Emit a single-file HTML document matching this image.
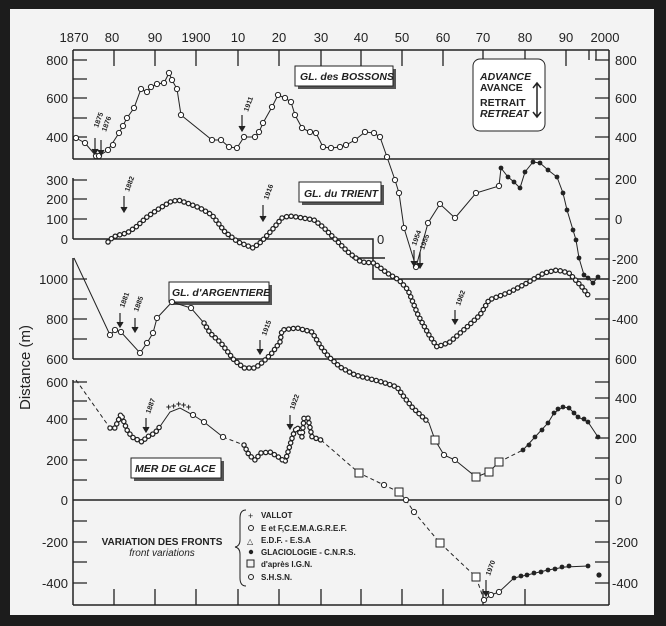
<!DOCTYPE html>
<html><head><style>
body{margin:0;background:#1c1c1c;}
svg{display:block;font-family:"Liberation Sans",sans-serif;}
</style></head><body>
<svg width="666" height="626" viewBox="0 0 666 626">
<rect x="0" y="0" width="666" height="626" fill="#1c1c1c"/>
<rect x="10" y="9" width="644" height="606" fill="#f3f3f3"/>
<g stroke="#222" stroke-width="1.5" fill="none">
<line x1="73" y1="50" x2="609" y2="50"/>
<line x1="609" y1="50" x2="609" y2="605"/>
<line x1="73" y1="50" x2="73" y2="159"/>
<line x1="73" y1="159" x2="609" y2="159"/>
<line x1="73" y1="178" x2="73" y2="239"/>
<polyline points="73,239 373,239 373,279 609,279"/>
<line x1="73" y1="258" x2="73" y2="359"/>
<line x1="73" y1="359" x2="609" y2="359"/>
<line x1="73" y1="380" x2="73" y2="605"/>
<line x1="73" y1="500" x2="609" y2="500"/>
<line x1="73" y1="605" x2="609" y2="605"/>
<line x1="352" y1="258" x2="385" y2="258"/>
</g>
<g stroke="#222" stroke-width="1.3">
<path d="M114 50v16M155 50v16M196 50v16M238 50v16M279 50v16M321 50v16M361 50v16M402 50v16M443 50v16M483 50v16M525 50v16M566 50v16M589 50v10M596 50v10"/>
<path d="M114 605v-16M155 605v-16M196 605v-16M238 605v-16M279 605v-16M321 605v-16M361 605v-16M402 605v-16M443 605v-16M483 605v-16M525 605v-16"/>
<path d="M73 60h14M73 79h14M73 98h14M73 118h14M73 137h14M73 180h14M73 199h14M73 219h14M73 279h14M73 299h14M73 319h14M73 339h14M73 382h14M73 401h14M73 419h14M73 440h14M73 460h14M73 480h14M73 521h14M73 542h14M73 562h14M73 583h14"/>
<path d="M609 60h-14M609 79h-14M609 98h-14M609 118h-14M609 137h-14M609 179h-14M609 199h-14M609 219h-14M609 239h-14M609 259h-14M609 299h-14M609 319h-14M609 339h-14M609 382h-14M609 398h-14M609 418h-14M609 438h-14M609 458h-14M609 479h-14M609 521h-14M609 542h-14M609 562h-14M609 583h-14"/>
</g>
<g font-size="13" fill="#222" text-anchor="middle">
<text x="74" y="42">1870</text><text x="112" y="42">80</text><text x="155" y="42">90</text><text x="196" y="42">1900</text><text x="238" y="42">10</text><text x="279" y="42">20</text><text x="321" y="42">30</text><text x="361" y="42">40</text><text x="402" y="42">50</text><text x="443" y="42">60</text><text x="483" y="42">70</text><text x="525" y="42">80</text><text x="566" y="42">90</text><text x="605" y="42">2000</text>
</g>
<g font-size="13" fill="#222" text-anchor="end">
<text x="68" y="65">800</text><text x="68" y="103">600</text><text x="68" y="142">400</text>
<text x="68" y="185">300</text><text x="68" y="204">200</text><text x="68" y="224">100</text><text x="68" y="244">0</text>
<text x="68" y="284">1000</text><text x="68" y="324">800</text><text x="68" y="364">600</text>
<text x="68" y="387">600</text><text x="68" y="424">400</text><text x="68" y="465">200</text><text x="68" y="505">0</text><text x="68" y="547">-200</text><text x="68" y="588">-400</text>
</g>
<g font-size="13" fill="#222">
<text x="615" y="65">800</text><text x="615" y="103">600</text><text x="615" y="142">400</text>
<text x="615" y="184">200</text><text x="615" y="224">0</text><text x="612" y="264">-200</text><text x="612" y="284">-200</text><text x="612" y="324">-400</text>
<text x="615" y="364">600</text><text x="615" y="403">400</text><text x="615" y="443">200</text><text x="615" y="484">0</text><text x="615" y="505">0</text><text x="612" y="547">-200</text><text x="612" y="588">-400</text>
<text x="377" y="244">0</text>
</g>
<text x="0" y="0" font-size="15" fill="#222" transform="translate(30,410) rotate(-90)">Distance   (m)</text>
<g font-size="10.5" font-weight="bold" font-style="italic" fill="#222">
<rect x="298" y="69" width="98" height="20" fill="#555"/><rect x="295" y="66" width="98" height="20" fill="#fff" stroke="#222"/>
<text x="300" y="80">GL. des BOSSONS</text>
<rect x="302" y="185" width="82" height="20" fill="#555"/><rect x="299" y="182" width="82" height="20" fill="#fff" stroke="#222"/>
<text x="304" y="197">GL. du TRIENT</text>
<rect x="172" y="285" width="100" height="20" fill="#555"/><rect x="169" y="282" width="100" height="20" fill="#fff" stroke="#222"/>
<text x="172" y="296">GL. d'ARGENTIERE</text>
<rect x="134" y="461" width="90" height="20" fill="#555"/><rect x="131" y="458" width="90" height="20" fill="#fff" stroke="#222"/>
<text x="135" y="472">MER DE GLACE</text>
<rect x="473" y="59" width="72" height="72" rx="7" fill="#fff" stroke="#222"/>
<text x="480" y="80">ADVANCE</text><text x="480" y="91" font-style="normal">AVANCE</text>
<text x="480" y="106" font-style="normal">RETRAIT</text><text x="480" y="117">RETREAT</text>
</g>
<path d="M537 84V116M533 88l4-5 4 5M533 112l4 5 4-5" stroke="#222" stroke-width="1.5" fill="none"/>
<g fill="#222" font-size="10">
<text x="162" y="545" font-weight="bold" text-anchor="middle">VARIATION DES FRONTS</text>
<text x="162" y="556" font-style="italic" text-anchor="middle">front variations</text>
<path d="M246 510 Q240 510 240 518 V540 Q240 546 235 547 Q240 548 240 554 V578 Q240 586 246 586" stroke="#222" fill="none"/>
<g font-size="8" font-weight="bold"><text x="261" y="518">VALLOT</text><text x="261" y="531">E et F,C.E.M.A.G.R.E.F.</text><text x="261" y="543">E.D.F. - E.S.A</text><text x="261" y="555">GLACIOLOGIE - C.N.R.S.</text><text x="261" y="567">d'après I.G.N.</text><text x="261" y="580">S.H.S.N.</text></g>
<text x="248" y="519" font-size="9">+</text><circle cx="251" cy="528" r="2.5" fill="none" stroke="#222"/><text x="247" y="544" font-size="8">△</text><circle cx="251" cy="552" r="2.2"/><rect x="247" y="560" width="7" height="7" fill="none" stroke="#222"/><circle cx="251" cy="577" r="2.5" fill="none" stroke="#222"/>
</g>
<g stroke="#222" stroke-width="1" fill="none">
<polyline points="76,138 85,143 96,156 99,156 108,150 119,133 127,118 134,108 141,89 147,92 151,87 157,84 164,83 169,73 172,80 177,89 181,115 212,140 221,140 229,147 237,148 244,137 255,137 259,132 263,123 272,107 278,95 285,98 291,102 295,115 302,128 310,132 316,133 323,147 331,148 340,147 346,145 355,140 365,132 374,133 380,137 387,157 395,180 399,193 404,228 416,267 428,223 440,204 455,218 476,193 499,186 501,168 508,177 514,182 520,188 525,172 533,162 540,163 548,170 557,177 563,193 567,210 573,230 576,240 579,258 584,275 588,278 593,283 598,277"/>
<polyline points="108,242 113,237 119,235 127,233 136,227 147,217 157,210 170,202 178,200 187,203 200,208 212,215 225,232 238,242 253,248 261,242 272,230 282,218 289,216 297,217 314,220 323,227 336,240 348,252 361,262 374,263 387,273 399,280 408,290 418,315 429,335 437,347 450,342 467,327 480,315 489,300 510,292 527,283 544,273 557,270 569,273 582,287 588,295"/>
<polyline points="74,258 110,335 115,330 121,332 140,353 147,343 153,333 157,318 172,302 191,308 204,323 210,333 221,343 234,360 244,368 255,368 263,362 272,353 280,342 282,330 297,328 312,332 321,347 329,357 340,367 355,375 382,382 397,387 404,397 412,407 429,423 435,440 444,455 455,460 476,477 489,472 499,462"/>
<polyline points="499,462 523,450" stroke-dasharray="4,3"/>
<polyline points="523,450 535,437 548,423 554,413 563,407 569,408 578,417 588,422 598,437"/>
<polyline points="76,380 110,428" stroke-dasharray="4,3"/>
<polyline points="110,428 115,428 121,414 127,430 132,437 142,442 147,437 155,433 161,425 170,412 180,408 193,415 204,422 223,437"/>
<polyline points="223,437 244,445" stroke-dasharray="4,3"/>
<polyline points="244,445 249,455 255,460 261,453 270,452 280,458 285,462 293,435 297,427 302,437 304,418 308,418 312,437 321,440"/>
<polyline points="321,440 359,473 384,485 399,492 406,500 414,512 440,543 476,577 484,600" stroke-dasharray="4,3"/>
<polyline points="484,600 491,595 499,592 514,578 527,575 548,570 565,567 588,566"/>
</g>
<g stroke="#222" stroke-width="1" fill="#fff">
<circle cx="76" cy="138" r="2.6"/><circle cx="85" cy="143" r="2.6"/><circle cx="96" cy="156" r="2.6"/><circle cx="99" cy="156" r="2.6"/><circle cx="108" cy="150" r="2.6"/><circle cx="113" cy="145" r="2.6"/><circle cx="119" cy="133" r="2.6"/><circle cx="123" cy="126" r="2.6"/><circle cx="127" cy="118" r="2.6"/><circle cx="134" cy="108" r="2.6"/><circle cx="141" cy="89" r="2.6"/><circle cx="147" cy="92" r="2.6"/><circle cx="151" cy="87" r="2.6"/><circle cx="157" cy="84" r="2.6"/><circle cx="164" cy="83" r="2.6"/><circle cx="169" cy="73" r="2.6"/><circle cx="172" cy="80" r="2.6"/><circle cx="177" cy="89" r="2.6"/><circle cx="181" cy="115" r="2.6"/><circle cx="212" cy="140" r="2.6"/><circle cx="221" cy="140" r="2.6"/><circle cx="229" cy="147" r="2.6"/><circle cx="237" cy="148" r="2.6"/><circle cx="244" cy="137" r="2.6"/><circle cx="255" cy="137" r="2.6"/><circle cx="259" cy="132" r="2.6"/><circle cx="263" cy="123" r="2.6"/><circle cx="272" cy="107" r="2.6"/><circle cx="278" cy="95" r="2.6"/><circle cx="285" cy="98" r="2.6"/><circle cx="291" cy="102" r="2.6"/><circle cx="295" cy="115" r="2.6"/><circle cx="302" cy="128" r="2.6"/><circle cx="310" cy="132" r="2.6"/><circle cx="316" cy="133" r="2.6"/><circle cx="323" cy="147" r="2.6"/><circle cx="331" cy="148" r="2.6"/><circle cx="340" cy="147" r="2.6"/><circle cx="346" cy="145" r="2.6"/><circle cx="355" cy="140" r="2.6"/><circle cx="365" cy="132" r="2.6"/><circle cx="374" cy="133" r="2.6"/><circle cx="380" cy="137" r="2.6"/><circle cx="387" cy="157" r="2.6"/><circle cx="395" cy="180" r="2.6"/><circle cx="399" cy="193" r="2.6"/><circle cx="404" cy="228" r="2.6"/><circle cx="416" cy="267" r="2.6"/><circle cx="428" cy="223" r="2.6"/><circle cx="440" cy="204" r="2.6"/><circle cx="455" cy="218" r="2.6"/><circle cx="476" cy="193" r="2.6"/><circle cx="499" cy="186" r="2.6"/>
</g>
<g stroke="#222" fill="none" stroke-dasharray="0.1,4.6" stroke-linecap="round" stroke-width="5.5">
<polyline points="108,242 113,237 119,235 127,233 136,227 147,217 157,210 170,202 178,200 187,203 200,208 212,215 225,232 238,242 253,248 261,242 272,230 282,218 289,216 297,217 314,220 323,227 336,240 348,252 361,262 374,263 387,273 399,280 408,290 418,315 429,335 437,347 450,342 467,327 480,315 489,300 510,292 527,283 544,273 557,270 569,273 582,287 588,295"/>
<polyline points="204,323 210,333 221,343 234,360 244,368 255,368 263,362 272,353 280,342 282,330 297,328 312,332 321,347 329,357 340,367 355,375 382,382 397,387 404,397 412,407 429,423"/>
<polyline points="110,428 115,428 121,414 127,430 132,437 142,442 147,437 155,433 161,425"/>
<polyline points="244,445 249,455 255,460 261,453 270,452 280,458 285,462 293,435 297,427 302,437 304,418 308,418 312,437 321,440"/>
</g>
<g stroke="#fff" stroke-width="3" fill="none" stroke-dasharray="0.1,4.6" stroke-linecap="round">
<polyline points="108,242 113,237 119,235 127,233 136,227 147,217 157,210 170,202 178,200 187,203 200,208 212,215 225,232 238,242 253,248 261,242 272,230 282,218 289,216 297,217 314,220 323,227 336,240 348,252 361,262 374,263 387,273 399,280 408,290 418,315 429,335 437,347 450,342 467,327 480,315 489,300 510,292 527,283 544,273 557,270 569,273 582,287 588,295"/>
<polyline points="204,323 210,333 221,343 234,360 244,368 255,368 263,362 272,353 280,342 282,330 297,328 312,332 321,347 329,357 340,367 355,375 382,382 397,387 404,397 412,407 429,423"/>
<polyline points="110,428 115,428 121,414 127,430 132,437 142,442 147,437 155,433 161,425"/>
<polyline points="244,445 249,455 255,460 261,453 270,452 280,458 285,462 293,435 297,427 302,437 304,418 308,418 312,437 321,440"/>
</g>
<g stroke="#222" fill="#fff">
<circle cx="110" cy="335" r="2.6"/><circle cx="115" cy="330" r="2.6"/><circle cx="121" cy="332" r="2.6"/><circle cx="140" cy="353" r="2.6"/><circle cx="147" cy="343" r="2.6"/><circle cx="153" cy="333" r="2.6"/><circle cx="157" cy="318" r="2.6"/><circle cx="172" cy="302" r="2.6"/><circle cx="191" cy="308" r="2.6"/>
<circle cx="444" cy="455" r="2.6"/><circle cx="455" cy="460" r="2.6"/><circle cx="193" cy="415" r="2.6"/><circle cx="204" cy="422" r="2.6"/><circle cx="223" cy="437" r="2.6"/><circle cx="384" cy="485" r="2.6"/><circle cx="406" cy="500" r="2.6"/><circle cx="414" cy="512" r="2.6"/><circle cx="484" cy="600" r="2.6"/><circle cx="491" cy="595" r="2.6"/><circle cx="499" cy="592" r="2.6"/>
<rect x="431" y="436" width="8" height="8"/><rect x="472" y="473" width="8" height="8"/><rect x="485" y="468" width="8" height="8"/><rect x="495" y="458" width="8" height="8"/>
<rect x="355" y="469" width="8" height="8"/><rect x="395" y="488" width="8" height="8"/><rect x="436" y="539" width="8" height="8"/><rect x="472" y="573" width="8" height="8"/>
</g>
<g fill="#222">
<circle cx="501" cy="168" r="2.4"/><circle cx="508" cy="177" r="2.4"/><circle cx="514" cy="182" r="2.4"/><circle cx="520" cy="188" r="2.4"/><circle cx="525" cy="172" r="2.4"/><circle cx="533" cy="162" r="2.4"/><circle cx="540" cy="163" r="2.4"/><circle cx="548" cy="170" r="2.4"/><circle cx="557" cy="177" r="2.4"/><circle cx="563" cy="193" r="2.4"/><circle cx="567" cy="210" r="2.4"/><circle cx="573" cy="230" r="2.4"/><circle cx="576" cy="240" r="2.4"/><circle cx="579" cy="258" r="2.4"/><circle cx="584" cy="275" r="2.4"/><circle cx="588" cy="278" r="2.4"/><circle cx="593" cy="283" r="2.4"/><circle cx="598" cy="277" r="2.4"/>
<circle cx="523" cy="450" r="2.4"/><circle cx="529" cy="445" r="2.4"/><circle cx="535" cy="437" r="2.4"/><circle cx="542" cy="430" r="2.4"/><circle cx="548" cy="423" r="2.4"/><circle cx="554" cy="413" r="2.4"/><circle cx="558" cy="409" r="2.4"/><circle cx="563" cy="407" r="2.4"/><circle cx="569" cy="408" r="2.4"/><circle cx="574" cy="413" r="2.4"/><circle cx="578" cy="417" r="2.4"/><circle cx="584" cy="419" r="2.4"/><circle cx="588" cy="422" r="2.4"/><circle cx="598" cy="437" r="2.4"/>
<circle cx="514" cy="578" r="2.4"/><circle cx="521" cy="576" r="2.4"/><circle cx="527" cy="575" r="2.4"/><circle cx="534" cy="573" r="2.4"/><circle cx="541" cy="572" r="2.4"/><circle cx="548" cy="570" r="2.4"/><circle cx="555" cy="569" r="2.4"/><circle cx="562" cy="567" r="2.4"/><circle cx="569" cy="566" r="2.4"/><circle cx="588" cy="566" r="2.4"/><circle cx="599" cy="575" r="2.6"/>
</g>
<g font-size="9" fill="#222" font-weight="bold">
<text x="166" y="410">+</text><text x="171" y="409">+</text><text x="176" y="407">+</text><text x="181" y="408">+</text><text x="186" y="410">+</text>
</g>
<g stroke="#222" stroke-width="1.2" fill="#222">
<path d="M95 138v14M92 149l3 5 3-5M101 140v13M98 150l3 5 3-5M242 115v14M239 126l3 5 3-5M124 196v14M121 207l3 5 3-5M263 205v14M260 216l3 5 3-5M414 250v14M411 261l3 5 3-5M420 252v14M417 263l3 5 3-5M120 313v12M117 322l3 5 3-5M135 318v12M132 327l3 5 3-5M260 340v12M257 349l3 5 3-5M146 418v12M143 427l3 5 3-5M290 415v12M287 424l3 5 3-5M455 310v12M452 319l3 5 3-5M486 580v14M483 591l3 5 3-5"/>
</g>
<g font-size="7" fill="#222" font-weight="bold">
<text transform="translate(98,128) rotate(-70)">1875</text><text transform="translate(106,132) rotate(-70)">1876</text><text transform="translate(248,112) rotate(-70)">1911</text>
<text transform="translate(129,192) rotate(-70)">1882</text><text transform="translate(268,200) rotate(-70)">1916</text><text transform="translate(416,246) rotate(-70)">1954</text><text transform="translate(424,250) rotate(-70)">1955</text>
<text transform="translate(124,308) rotate(-70)">1881</text><text transform="translate(138,312) rotate(-70)">1885</text><text transform="translate(266,336) rotate(-70)">1915</text><text transform="translate(460,306) rotate(-70)">1962</text>
<text transform="translate(150,414) rotate(-70)">1887</text><text transform="translate(294,410) rotate(-70)">1922</text><text transform="translate(490,576) rotate(-70)">1970</text>
</g>
</svg>
</body></html>
